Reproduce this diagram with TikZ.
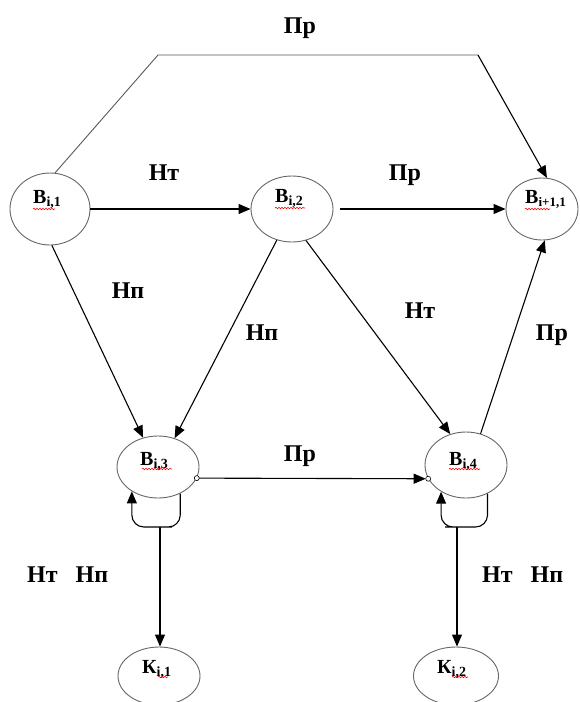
\documentclass[tikz,border=0pt]{standalone}
\usepackage{fontspec}
\setmainfont{Liberation Serif}
\usetikzlibrary{arrows.meta,shapes.geometric,decorations.pathmorphing}
% lowered bold subscript for the state names
\newcommand\lowsub[2][14]{\raisebox{-3pt}{\fontsize{#1}{#1}\selectfont\bfseries #2}}
\begin{document}
\begin{tikzpicture}[x=1pt,y=-1pt,
  state/.style={ellipse,draw=black!60,line width=0.9pt,inner sep=0pt},
  lbl/.style={font=\fontsize{24}{24}\selectfont\bfseries,anchor=base,inner sep=0pt},
  sname/.style={font=\fontsize{20}{20}\selectfont\bfseries,anchor=base west,inner sep=0pt},
  link/.style={line width=1.1pt,-{Triangle[length=12pt,width=10pt]}},
  thin link/.style={line width=0.9pt,draw=black!65},
  squig/.style={red,line width=0.6pt,decorate,decoration={snake,segment length=3pt,amplitude=0.7pt}},
  port/.style={fill=white,draw=black,line width=0.6pt}]

\useasboundingbox (0,0) rectangle (579,702);

% states
\node[state,minimum width=80pt,minimum height=72pt] (b1)  at (50,209) {};
\node[state,minimum width=82pt,minimum height=66pt] (b2)  at (292,209) {};
\node[state,minimum width=72pt,minimum height=62pt] (b11) at (542,209) {};
\node[state,minimum width=82pt,minimum height=62pt] (b3)  at (158,467) {};
\node[state,minimum width=82pt,minimum height=66pt] (b4)  at (466,465) {};
\node[state,minimum width=82pt,minimum height=58pt] (k1)  at (159,676) {};
\node[state,minimum width=85pt,minimum height=58pt] (k2)  at (456,676) {};

% state names
\node[sname] (n1)  at (33,203)  {В\lowsub{i,1}};
\node[sname] (n2)  at (275,202) {В\lowsub{i,2}};
\node[sname] (n11) at (525,203) {В\lowsub[13]{i+1,1}};
\node[sname] (n3)  at (140,465) {В\lowsub{i,3}};
\node[sname] (n4)  at (449,465) {В\lowsub{i,4}};
\node[sname] (n5)  at (142,673) {К\lowsub{i,1}};
\node[sname] (n6)  at (437,673) {К\lowsub{i,2}};

% spell-check underlines
\draw[squig] (33,209) -- (55,209);
\draw[squig] (275,208) -- (305,208);
\draw[squig] (525,209) -- (550,209);
\draw[squig] (142,469) -- (172,469);
\draw[squig] (449,469) -- (480,469);
\draw[squig] (158,677) -- (168,677);
\draw[squig] (452,677) -- (468,677);

% bypass over the top
\coordinate (c1) at (158,55);
\coordinate (c2) at (478,55);
\draw[thin link] (b1.82) -- (c1) -- (c2);
\draw[link] (c2) -- (b11.81);

% transitions
\draw[link] (b1.east) -- (b2.west);
\draw[link] ([xshift=7pt]b2.east) -- (b11.west);
\draw[link] (b1.273) -- (b3.117);
\draw[link] (b2.244) -- (b3.60);
\draw[link] (b2.294) -- (b4.117);
\draw[link] (b4.65) -- (b11.275);
\draw[link,shorten >=2.5pt] (b3.-16) -- (b4.200);
\draw[port] (b3.-16) circle (2.5pt);
\draw[port] (b4.200) circle (2.5pt);

% self loops and exits
\coordinate (l3) at (160,527);
\coordinate (l4) at (457,527);
\draw[link,rounded corners=12pt] (b3.-50) |- (l3) -| (b3.223);
\draw[link,rounded corners=12pt] (b4.-53) |- (l4) -| (b4.227);
\draw[link] (l3) -- (l3 |- k1.north);
\draw[link] (l4) -- (l4 |- k2.north);

% transition labels
\node[lbl] (p1) at (300,33)  {Пр};
\node[lbl] (p2) at (164,180) {Нт};
\node[lbl] (p3) at (405,180) {Пр};
\node[lbl] (p4) at (128,298) {Нп};
\node[lbl] (p5) at (262,340) {Нп};
\node[lbl] (p6) at (420,318) {Нт};
\node[lbl] (p7) at (552,340) {Пр};
\node[lbl] (p8) at (300,461) {Пр};
\node[lbl,anchor=base west] (p9)  at (27,582)  {Нт\hspace{18pt}Нп};
\node[lbl,anchor=base west] (p10) at (482,582) {Нт\hspace{18pt}Нп};
\end{tikzpicture}
\end{document}
